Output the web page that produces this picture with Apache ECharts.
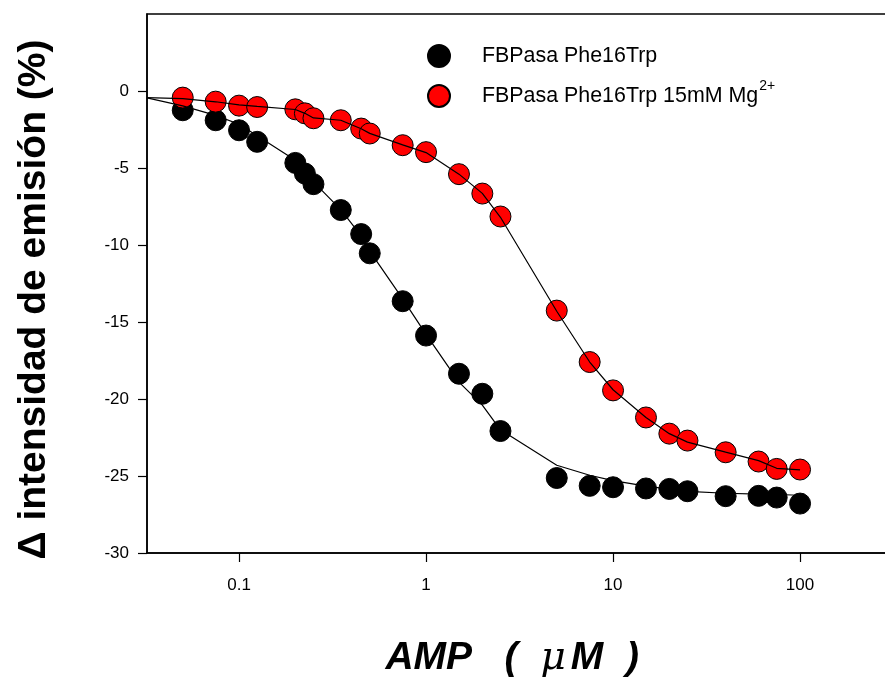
<!DOCTYPE html>
<html>
<head>
<meta charset="utf-8">
<script src="https://cdn.jsdelivr.net/npm/echarts@6/dist/echarts.min.js"></script>
<style>
html,body{margin:0;padding:0;background:#fff;}
#chart{width:885px;height:688px;}
</style>
</head>
<body>
<div id="chart"></div>
<script>
// ---- data ----
const xAxisMin = 0.0322;
const xAxisMax = 316;
const concentrations = [0.05,0.075,0.1,0.125,0.2,0.225,0.25,0.35,0.45,0.5,0.75,1,1.5,2,2.5,5,7.5,10,15,20,25,40,60,75,100];
const phe16Trp = [-1.25,-1.9,-2.55,-3.3,-4.67,-5.36,-6.05,-7.73,-9.29,-10.54,-13.65,-15.88,-18.36,-19.66,-22.08,-25.13,-25.64,-25.73,-25.81,-25.84,-25.99,-26.31,-26.29,-26.4,-26.79];
const phe16TrpMg = [-0.43,-0.69,-0.95,-1.04,-1.19,-1.45,-1.77,-1.9,-2.44,-2.76,-3.52,-3.97,-5.4,-6.66,-8.15,-14.26,-17.6,-19.44,-21.2,-22.25,-22.7,-23.46,-24.06,-24.54,-24.58];
const fitX = [xAxisMin].concat(concentrations);
const fitPhe16Trp = [-0.45,-0.97,-1.58,-2.16,-2.9,-4.5,-5.2,-5.9,-7.7,-9.4,-10.4,-13.5,-15.8,-18.9,-20.4,-22.0,-24.3,-24.95,-25.3,-25.66,-25.85,-26.0,-26.12,-26.18,-26.2,-26.25];
const fitPhe16TrpMg = [-0.43,-0.5,-0.7,-0.9,-1.0,-1.2,-1.45,-1.75,-1.9,-2.45,-2.75,-3.5,-4.0,-5.4,-6.65,-8.2,-14.3,-17.6,-19.4,-21.2,-22.25,-22.8,-23.45,-24.0,-24.5,-24.6];
const xTicks = [0.1,1,10,100];
const yTicks = [-30,-25,-20,-15,-10,-5,0];
const seriesNames = ['FBPasa Phe16Trp','FBPasa Phe16Trp 15mM Mg'];

const zip = (xs, ys) => xs.map((x,i)=>[x, ys[i]]);
const FONT = "'Liberation Sans', Arial, sans-serif";

const chart = echarts.init(document.getElementById('chart'), null, {renderer:'canvas'});
chart.setOption({
  animation:false,
  backgroundColor:'#fff',
  grid:{left:147, top:14, width:746.5, height:539, show:true, borderColor:'#000', borderWidth:1.5,
    backgroundColor:'transparent', containLabel:false, outerBoundsMode:'none'},
  legend:{
    orient:'vertical', left:422, top:39, itemWidth:22, itemHeight:22, itemGap:11,
    data:seriesNames,
    formatter: function(name){
      if (name === seriesNames[1]) return '{a|' + name + '}{sup|2+}';
      return '{a|' + name + '}';
    },
    textStyle:{
      color:'#000', fontFamily:FONT, fontSize:21.4, padding:[0,0,0,27],
      rich:{
        a:{fontSize:21.4, fontFamily:FONT, color:'#000'},
        sup:{fontSize:14, fontFamily:FONT, color:'#000', padding:[0,0,20,1]}
      }
    }
  },
  xAxis:{
    type:'log', logBase:10, min:xAxisMin, max:xAxisMax,
    name:'{b|AMP   ( }{m|μ}{mm|M}{b| )}', nameLocation:'middle', nameGap:86,
    nameTextStyle:{padding:[0,16,0,0], rich:{
      b:{fontSize:39, fontWeight:'bold', fontStyle:'italic', fontFamily:FONT, color:'#000'},
      mm:{fontSize:39, fontWeight:'bold', fontStyle:'italic', fontFamily:FONT, color:'#000', padding:[0,12,0,0]},
      m:{fontSize:39, fontStyle:'italic', fontFamily:"'DejaVu Serif', serif", color:'#000', padding:[0,5,0,12]}
    }},
    axisLine:{show:true, onZero:false, lineStyle:{color:'#000', width:1.5}},
    axisTick:{show:true, length:9, inside:false, lineStyle:{color:'#000', width:1.2}, customValues:xTicks},
    axisLabel:{color:'#000', fontSize:17, fontFamily:FONT, margin:24, customValues:xTicks,
      formatter: v => String(v)},
    minorTick:{show:false}, splitLine:{show:false}, minorSplitLine:{show:false}
  },
  yAxis:{
    type:'value', min:-30, max:5, interval:5,
    name:'Δ intensidad de emisión (%)', nameLocation:'middle', nameGap:93,
    nameTextStyle:{fontSize:39, fontWeight:700, fontFamily:FONT, color:'#000', padding:[0,32,0,0]},
    axisLine:{show:true, onZero:false, lineStyle:{color:'#000', width:1.5}},
    axisTick:{show:true, length:9, inside:false, lineStyle:{color:'#000', width:1.2}, customValues:yTicks},
    axisLabel:{color:'#000', fontSize:17, fontFamily:FONT, margin:18, customValues:yTicks},
    splitLine:{show:false}
  },
  series:[
    {name:seriesNames[0], type:'scatter', data:zip(concentrations, phe16Trp), symbol:'circle', symbolSize:21,
      itemStyle:{color:'#000', borderColor:'#000', borderWidth:1, opacity:1}, z:3},
    {name:seriesNames[1], type:'scatter', data:zip(concentrations, phe16TrpMg), symbol:'circle', symbolSize:21,
      itemStyle:{color:'#ff0000', borderColor:'#000', borderWidth:1, opacity:1}, z:3},
    {name:'fit1', type:'line', data:zip(fitX, fitPhe16Trp), showSymbol:false, symbol:'none',
      lineStyle:{color:'#000', width:1.2}, z:4, silent:true},
    {name:'fit2', type:'line', data:zip(fitX, fitPhe16TrpMg), showSymbol:false, symbol:'none',
      lineStyle:{color:'#000', width:1.2}, z:4, silent:true}
  ]
});
</script>
</body>
</html>
